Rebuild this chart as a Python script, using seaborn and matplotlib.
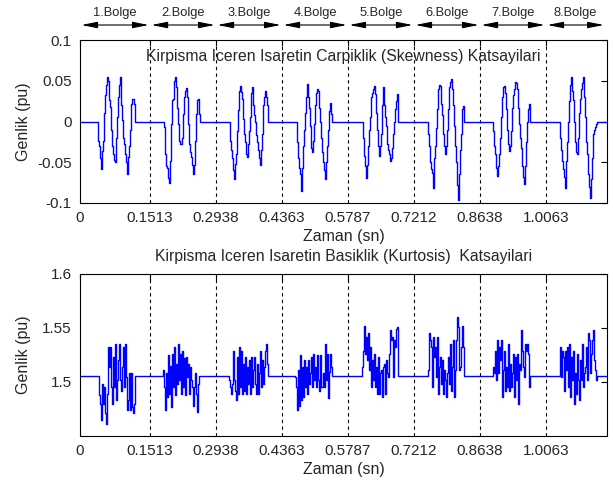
import numpy as np
import pandas as pd
import matplotlib
matplotlib.use("Agg")
import matplotlib.pyplot as plt
import seaborn as sns

# ---------------- data ----------------
boundaries = [0.1513, 0.2938, 0.4363, 0.5787, 0.7212, 0.8638, 1.0063]
x_tick_values = [0, 0.1513, 0.2938, 0.4363, 0.5787, 0.7212, 0.8638, 1.0063]
x_tick_labels = ["0", "0.1513", "0.2938", "0.4363", "0.5787", "0.7212", "0.8638", "1.0063"]
region_names = ["1.Bolge", "2.Bolge", "3.Bolge", "4.Bolge", "5.Bolge", "6.Bolge", "7.Bolge", "8.Bolge"]
x_max = 1.138
sample_step = 0.00216

skew_base = 0.0
skew_yticks = [-0.1, -0.05, 0, 0.05, 0.1]
skew_ytick_labels = ["-0.1", "-0.05", "0", "0.05", "0.1"]
skew_starts = [0.0396, 0.1822, 0.3240, 0.4687, 0.6105, 0.7510, 0.8920, 1.0360]
skew_1 = [-0.024, -0.03, -0.045, -0.058, -0.036, -0.024, 0.01, 0.032, 0.045, 0.054, 0.05, 0.026, 0.018,
          -0.01, -0.03, -0.04, -0.047, -0.05, -0.02, 0.005, 0.03, 0.045, 0.055, 0.02, 0.002, -0.02, -0.028,
          -0.04, -0.05, -0.064, -0.044, -0.03, -0.01, 0.021, 0.027, 0.028, 0.022]
skew_2 = [-0.007, -0.04, -0.055, -0.057, -0.069, -0.076, -0.049, -0.003, 0.026, 0.028, 0.05, 0.054, 0.042,
          0.017, -0.003, -0.024, -0.028, -0.028, -0.02, 0.009, 0.03, 0.038, 0.041, 0.03, -0.003, -0.028,
          -0.038, -0.044, -0.053, -0.065, -0.053, -0.024, 0.009, 0.026, 0.028, 0.009]
skew_3 = [-0.024, -0.035, -0.045, -0.06, -0.07, -0.052, -0.04, -0.012, 0.014, 0.038, 0.044, 0.036, 0.027,
          0.003, -0.015, -0.025, -0.04, -0.044, -0.028, -0.012, 0.005, 0.035, 0.042, 0.02, 0.008, 0.0,
          -0.016, -0.025, -0.035, -0.045, -0.053, -0.035, -0.015, 0.02, 0.03, 0.038, 0.03, 0.02]
skew_4 = [-0.025, -0.045, -0.057, -0.065, -0.085, -0.057, -0.03, -0.01, 0.01, 0.03, 0.046, 0.03, 0.016,
          -0.005, -0.033, -0.038, -0.024, -0.003, 0.02, 0.035, 0.04, 0.038, 0.017, 0.0, -0.02, -0.037,
          -0.05, -0.06, -0.071, -0.05, -0.03, -0.01, 0.013, 0.023, 0.009]
skew_5 = [-0.02, -0.042, -0.055, -0.069, -0.053, -0.03, -0.01, 0.005, 0.03, 0.035, 0.04, 0.044, 0.034,
          0.01, -0.01, -0.03, -0.042, -0.03, -0.015, 0.02, 0.042, 0.02, 0.005, -0.005, -0.028, -0.035,
          -0.04, -0.048, -0.045, -0.032, -0.015, 0.0, 0.015, 0.025, 0.034]
skew_6 = [-0.015, -0.03, -0.05, -0.058, -0.063, -0.081, -0.045, -0.03, -0.008, 0.015, 0.04, 0.045, 0.044,
          0.022, 0.008, -0.015, -0.03, -0.04, -0.03, -0.01, 0.015, 0.042, 0.048, 0.052, 0.04, 0.02,
          -0.005, -0.03, -0.05, -0.078, -0.096, -0.065, -0.035, -0.015, 0.015, 0.019]
skew_7 = [-0.012, -0.03, -0.04, -0.057, -0.067, -0.055, -0.04, -0.02, 0.005, 0.03, 0.042, 0.044, 0.035,
          0.015, -0.01, -0.028, -0.036, -0.03, -0.012, 0.017, 0.032, 0.04, 0.048, 0.047, 0.04, 0.017,
          -0.003, -0.02, -0.032, -0.055, -0.068, -0.077, -0.055, -0.025, 0.0, 0.015, 0.021]
skew_8 = [-0.02, -0.035, -0.048, -0.058, -0.068, -0.081, -0.049, -0.025, 0.0, 0.025, 0.045, 0.054, 0.038,
          0.026, 0.0, -0.025, -0.037, -0.04, -0.02, 0.01, 0.028, 0.04, 0.047, 0.054, 0.03, 0.005, -0.025,
          -0.04, -0.065, -0.08, -0.094, -0.07, -0.045, -0.015, -0.01, -0.007, -0.003]

kurt_base = 1.506
kurt_yticks = [1.5, 1.55, 1.6]
kurt_ytick_labels = ["1.5", "1.55", "1.6"]
kurt_starts = [0.0403, 0.1800, 0.3218, 0.4637, 0.6091, 0.7510, 0.8920, 1.0360]
kurt_1 = [1.488, 1.480, 1.465, 1.498, 1.480, 1.495, 1.471, 1.461, 1.489, 1.532, 1.514, 1.532, 1.495,
          1.480, 1.523, 1.495, 1.535, 1.483, 1.502, 1.520, 1.535, 1.502, 1.492, 1.514, 1.532, 1.495,
          1.535, 1.505, 1.474, 1.483, 1.508, 1.474, 1.508, 1.477, 1.471, 1.480]
kurt_2 = [1.511, 1.495, 1.474, 1.508, 1.486, 1.525, 1.489, 1.515, 1.477, 1.526, 1.495, 1.532, 1.488,
          1.517, 1.498, 1.535, 1.502, 1.526, 1.489, 1.529, 1.495, 1.522, 1.488, 1.523, 1.505, 1.517,
          1.489, 1.514, 1.502, 1.495, 1.478, 1.495, 1.508, 1.489, 1.472, 1.498]
kurt_3 = [1.502, 1.495, 1.489, 1.498, 1.529, 1.502, 1.492, 1.483, 1.523, 1.489, 1.532, 1.495, 1.529,
          1.489, 1.517, 1.492, 1.523, 1.489, 1.514, 1.498, 1.520, 1.489, 1.523, 1.495, 1.511, 1.523,
          1.498, 1.489, 1.517, 1.489, 1.508, 1.529, 1.495, 1.520, 1.498, 1.514, 1.529, 1.535, 1.517]
kurt_4 = [1.505, 1.495, 1.474, 1.511, 1.478, 1.525, 1.483, 1.514, 1.486, 1.520, 1.495, 1.514, 1.489,
          1.520, 1.498, 1.508, 1.523, 1.495, 1.526, 1.502, 1.514, 1.495, 1.525, 1.502, 1.492, 1.525,
          1.495, 1.495, 1.508, 1.495, 1.535, 1.502, 1.526, 1.485, 1.509, 1.526, 1.514]
kurt_5 = [1.514, 1.529, 1.552, 1.526, 1.542, 1.520, 1.545, 1.511, 1.532, 1.495, 1.520, 1.502, 1.526,
          1.495, 1.514, 1.489, 1.523, 1.489, 1.508, 1.511, 1.486, 1.514, 1.517, 1.489, 1.520, 1.508,
          1.505, 1.526, 1.548, 1.539, 1.542, 1.505, 1.539, 1.532, 1.549, 1.551]
kurt_6 = [1.511, 1.545, 1.539, 1.532, 1.495, 1.542, 1.523, 1.532, 1.505, 1.542, 1.489, 1.514, 1.523,
          1.498, 1.520, 1.489, 1.511, 1.502, 1.486, 1.508, 1.523, 1.498, 1.535, 1.492, 1.514, 1.539,
          1.486, 1.511, 1.539, 1.560, 1.551, 1.511, 1.514, 1.532, 1.552, 1.532]
kurt_7 = [1.514, 1.508, 1.529, 1.502, 1.539, 1.508, 1.532, 1.520, 1.539, 1.486, 1.511, 1.529, 1.492,
          1.514, 1.495, 1.535, 1.492, 1.517, 1.495, 1.508, 1.526, 1.486, 1.523, 1.502, 1.526, 1.480,
          1.517, 1.511, 1.548, 1.529, 1.514, 1.505, 1.535, 1.529, 1.535, 1.526, 1.495]
kurt_8 = [1.532, 1.505, 1.529, 1.523, 1.492, 1.529, 1.511, 1.532, 1.495, 1.535, 1.486, 1.523, 1.502,
          1.529, 1.480, 1.508, 1.489, 1.526, 1.502, 1.483, 1.520, 1.502, 1.535, 1.495, 1.508, 1.514,
          1.532, 1.502, 1.545, 1.539, 1.508, 1.526, 1.539, 1.548, 1.520, 1.511, 1.502]

skew_title = "Kirpisma Iceren Isaretin Carpiklik (Skewness) Katsayilari"
kurt_title = "Kirpisma Iceren Isaretin Basiklik (Kurtosis)  Katsayilari"
x_label = "Zaman (sn)"
y_label = "Genlik (pu)"


def build_signal(starts, bursts, base):
    t, v = [0.0], [base]
    for s, b in zip(starts, bursts):
        for i, val in enumerate(b):
            t.append(s + i * sample_step)
            v.append(val)
        t.append(s + len(b) * sample_step)
        v.append(base)
    t.append(x_max)
    v.append(base)
    return pd.DataFrame({"t": t, "v": v})


skew_df = build_signal(skew_starts, [skew_1, skew_2, skew_3, skew_4, skew_5, skew_6, skew_7, skew_8], skew_base)
kurt_df = build_signal(kurt_starts, [kurt_1, kurt_2, kurt_3, kurt_4, kurt_5, kurt_6, kurt_7, kurt_8], kurt_base)

# ---------------- style ----------------
sns.set_theme(style="white")
plt.rcParams["font.family"] = ["Liberation Sans", "DejaVu Sans"]
plt.rcParams["xtick.direction"] = "in"
plt.rcParams["ytick.direction"] = "in"

W, H = 613, 482
fig = plt.figure(figsize=(W / 100, H / 100), dpi=100)
fig.patch.set_facecolor("white")

ax1 = fig.add_axes([80 / W, 1 - 203 / H, 527 / W, 163 / H])
ax2 = fig.add_axes([80 / W, 1 - 436 / H, 527 / W, 162 / H])

fs_tick = 11
fs_title = 11.3
fs_label = 11.5

for ax, df, ylim, yt, ytl in [
    (ax1, skew_df, (-0.1, 0.1), skew_yticks, skew_ytick_labels),
    (ax2, kurt_df, (1.45, 1.6), kurt_yticks, kurt_ytick_labels),
]:
    sns.lineplot(data=df, x="t", y="v", ax=ax, color="#0000ff", lw=1.0,
                 drawstyle="steps-post", estimator=None, sort=False)
    for b in boundaries:
        ax.axvline(b, color="black", lw=0.8, linestyle=(0, (3, 3)), zorder=1)
    ax.set_xlim(0, x_max)
    ax.set_ylim(*ylim)
    ax.set_xticks(x_tick_values)
    ax.set_xticklabels(x_tick_labels, fontsize=fs_tick)
    ax.set_yticks(yt)
    ax.set_yticklabels(ytl, fontsize=fs_tick)
    ax.tick_params(axis="both", which="both", direction="in", length=4, width=0.8,
                   top=True, right=True, color="black", pad=6)
    for sp in ax.spines.values():
        sp.set_visible(True)
        sp.set_color("black")
        sp.set_linewidth(0.8)
    ax.set_facecolor("white")
    ax.set_xlabel(x_label, fontsize=fs_label)
    ax.set_ylabel(y_label, fontsize=fs_label)
    ax.xaxis.set_label_coords(0.5, -0.16)
    ax.yaxis.set_label_coords(-0.093, 0.5)

ax1.text(0.5, 0.896, skew_title, transform=ax1.transAxes, ha="center", va="center", fontsize=fs_title)
ax2.text(0.5, 1.105, kurt_title, transform=ax2.transAxes, ha="center", va="center", fontsize=fs_title)

# region arrows on top
edges = [0.0] + boundaries + [x_max - 0.004]
trans = ax1.get_xaxis_transform()
for i, name in enumerate(region_names):
    x0, x1 = edges[i], edges[i + 1]
    ax1.annotate("", xy=(x1, 1.092), xytext=(x0, 1.092), xycoords=trans, textcoords=trans,
                 annotation_clip=False,
                 arrowprops=dict(arrowstyle="<|-|>,head_length=0.8,head_width=0.16",
                                 color="black", lw=0.8, shrinkA=1, shrinkB=1))
    ax1.text((x0 + x1) / 2, 1.165, name, transform=trans, ha="center", va="center", fontsize=9.3)

fig.savefig("out.png", dpi=100, facecolor="white")
